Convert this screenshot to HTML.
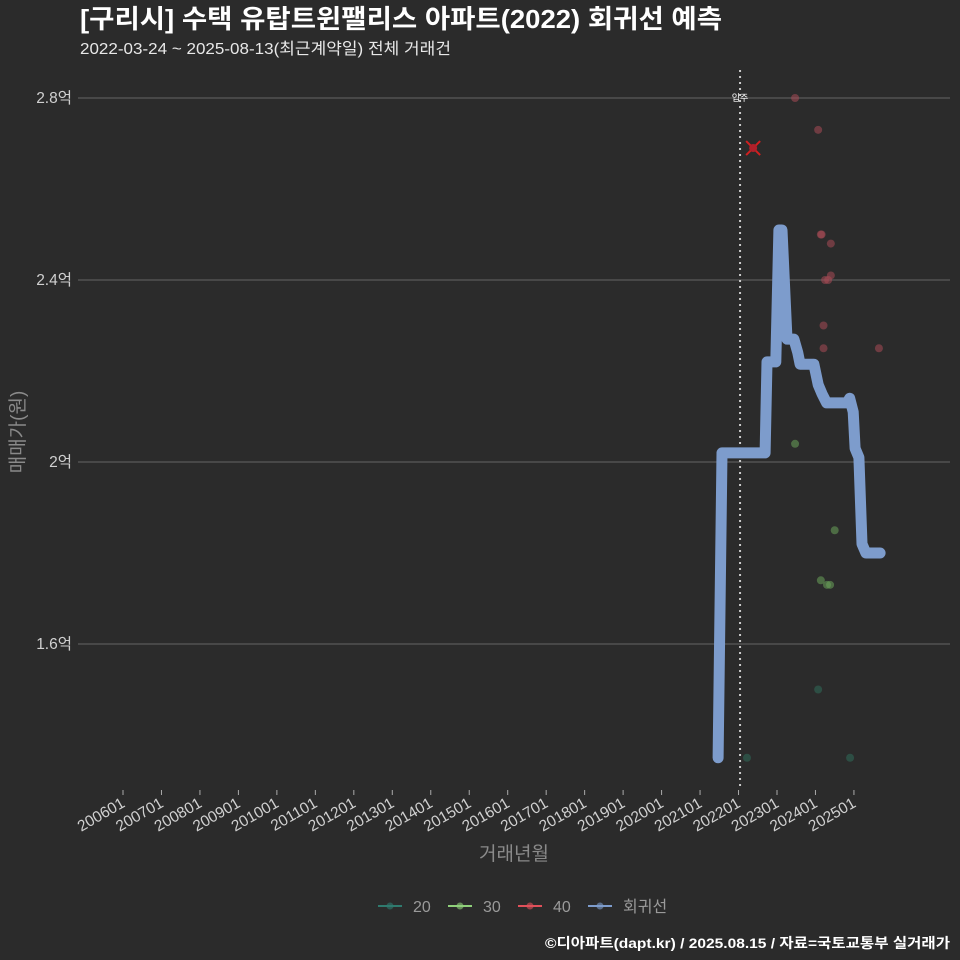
<!DOCTYPE html>
<html><head><meta charset="utf-8"><style>
html,body{margin:0;padding:0;background:#2b2b2b;}
svg{display:block;font-family:"Liberation Sans","Noto Sans CJK KR",sans-serif;}
</style></head><body>
<svg id="chart" width="960" height="960" viewBox="0 0 960 960">
<rect width="960" height="960" fill="#2b2b2b"/>
<text x="80" y="28" fill="#ffffff" font-size="26" font-weight="bold" textLength="642" lengthAdjust="spacingAndGlyphs">[구리시] 수택 유탑트윈팰리스 아파트(2022) 회귀선 예측</text>
<text x="80" y="54" fill="#e8e8e8" font-size="16" textLength="371" lengthAdjust="spacingAndGlyphs">2022-03-24 ~ 2025-08-13(최근계약일) 전체 거래건</text>
<g id="grid"></g>
<g id="marks"></g>
<text transform="translate(24,432) rotate(-90)" text-anchor="middle" fill="#8a8a8a" font-size="19">매매가(원)</text>
<text x="514" y="860" text-anchor="middle" fill="#8a8a8a" font-size="19">거래년월</text>
<g id="legend"></g>
<text x="950" y="948" text-anchor="end" fill="#ffffff" font-size="14" font-weight="bold" textLength="405" lengthAdjust="spacingAndGlyphs">©디아파트(dapt.kr) / 2025.08.15 / 자료=국토교통부 실거래가</text>
</svg>
<script>
const yTicks=[1.6,2.0,2.4,2.8];
const yTickLabels=["1.6억","2억","2.4억","2.8억"];
const xTickYears=[2006,2007,2008,2009,2010,2011,2012,2013,2014,2015,2016,2017,2018,2019,2020,2021,2022,2023,2024,2025];
const xTickLabels=["200601","200701","200801","200901","201001","201101","201201","201301","201401","201501","201601","201701","201801","201901","202001","202101","202201","202301","202401","202501"];
const lineT=[2021.47,2021.57,2022.69,2022.74,2022.97,2023.05,2023.13,2023.26,2023.44,2023.54,2023.60,2023.96,2024.07,2024.17,2024.29,2024.82,2024.89,2024.98,2025.03,2025.13,2025.21,2025.31,2025.68];
const lineV=[1.35,2.02,2.02,2.22,2.22,2.51,2.51,2.27,2.27,2.24,2.215,2.215,2.17,2.15,2.13,2.13,2.14,2.11,2.03,2.01,1.82,1.80,1.80];
const redT=[17.47,18.07,18.14,18.16,18.40,18.25,18.33,18.40,18.21,18.21,19.65].map(d=>d+2006);
const redV=[2.80,2.73,2.50,2.50,2.48,2.40,2.40,2.41,2.30,2.25,2.25];
const greenT=[17.47,18.50,18.14,18.30,18.38].map(d=>d+2006);
const greenV=[2.04,1.85,1.74,1.73,1.73];
const tealT=[18.07,16.22,18.90].map(d=>d+2006);
const tealV=[1.50,1.35,1.35];
const markT=[2022.38];
const markV=[2.69];
const moveInT=2022.04;

const NS="http://www.w3.org/2000/svg";
function xs(t){return 123+38.47*(t-2006);}
function ys(v){return 462-455*(v-2);}
function mk(tag,attrs,parent){const e=document.createElementNS(NS,tag);for(const k in attrs)e.setAttribute(k,attrs[k]);parent.appendChild(e);return e;}
const grid=document.getElementById('grid'),marks=document.getElementById('marks'),legend=document.getElementById('legend');
yTicks.forEach((v,i)=>{
  const l=mk('line',{x1:78,x2:950,y1:ys(v),y2:ys(v),stroke:'#5a5a5a','stroke-width':1.2},grid);
  
  
  const t=mk('text',{x:72,y:ys(v)+5,'text-anchor':'end',fill:'#d0d0d0','font-size':15.5},grid);
  t.textContent=yTickLabels[i];
  
  
});
xTickYears.forEach((yr,i)=>{
  const x=xs(yr);
  const tk=mk('line',{x1:x,x2:x,y1:790,y2:795,stroke:'#aaaaaa'},grid);
  
  
  const t=mk('text',{x:x+3,y:806,'text-anchor':'end',fill:'#d0d0d0','font-size':15.5,transform:`rotate(-30 ${x+3} 806)`},grid);
  t.textContent=xTickLabels[i];
  
  
});
const vl=mk('line',{x1:xs(moveInT),x2:xs(moveInT),y1:70,y2:790,stroke:'#cccccc','stroke-width':2,'stroke-dasharray':'2 4'},marks);


const vt=mk('text',{x:xs(moveInT),y:101,'text-anchor':'middle',fill:'#ffffff','font-size':9},marks);
vt.textContent='입주';


function pts(T,V,color,name){T.forEach((t,i)=>{const c=mk('circle',{cx:xs(t),cy:ys(V[i]),r:4,fill:color,'fill-opacity':0.55},marks);
  
  });}
pts(tealT,tealV,'#2f6b5a','point-20');
pts(greenT,greenV,'#6aa35a','point-30');
pts(redT,redV,'#a84a55','point-40');
const p=mk('path',{d:lineT.map((t,i)=>(i?'L':'M')+xs(t).toFixed(1)+' '+ys(lineV[i]).toFixed(1)).join(' '),fill:'none',stroke:'#7d9ccc','stroke-width':11,'stroke-linejoin':'round','stroke-linecap':'round'},marks);


markT.forEach((t,i)=>{const x=xs(t),y=ys(markV[i]);
  const g=mk('g',{},marks);
  
  
  mk('line',{x1:x-7,y1:y-7,x2:x+7,y2:y+7,stroke:'#d21f1f','stroke-width':2},g);
  mk('line',{x1:x-7,y1:y+7,x2:x+7,y2:y-7,stroke:'#d21f1f','stroke-width':2},g);
  mk('circle',{cx:x,cy:y,r:4,fill:'#b0202a'},g);});
const items=[['20','#2f7a6e',378],['30','#8fd07a',448],['40','#e0505a',518],['회귀선','#7d9ccc',588]];
items.forEach(([lab,col,x])=>{
  const g=mk('g',{},legend);
  
  
  mk('line',{x1:x,x2:x+24,y1:906,y2:906,stroke:col,'stroke-width':2},g);
  mk('circle',{cx:x+12,cy:906,r:3.5,fill:col,'fill-opacity':0.6},g);
  const t=mk('text',{x:x+35,y:912,fill:'#9a9a9a','font-size':16},g);t.textContent=lab;
});
</script>
</body></html>
